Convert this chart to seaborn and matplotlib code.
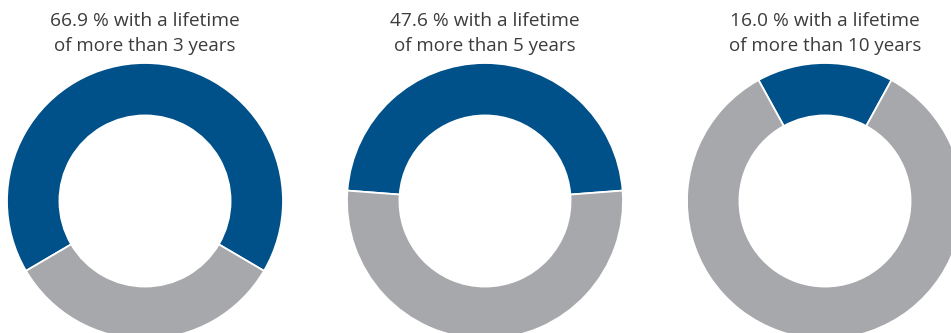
import seaborn as sns
import matplotlib.pyplot as plt

# Share of items per lifetime threshold
shares = [66.9, 47.6, 16.0]
years = [3, 5, 10]

sns.set_theme(style="white")
plt.rcParams['font.family'] = ['Open Sans', 'DejaVu Sans']

blue = '#00508a'
grey = '#a7a8ab'
text_color = '#3c3c3c'

W, H = 951, 333
fig = plt.figure(figsize=(W / 100, H / 100), dpi=100)

radius_px = 138
half = 140
centers_x = [145, 485, 825]
center_y = H - 201

for cx, share, yr in zip(centers_x, shares, years):
    ax = fig.add_axes([(cx - half) / W, (center_y - half) / H, 2 * half / W, 2 * half / H])
    start = 90 - share * 360 / 200
    ax.pie([share, 100 - share], colors=[blue, grey], startangle=start,
           counterclock=True, radius=1,
           wedgeprops=dict(width=0.38, edgecolor='white', linewidth=1.3))
    lim = half / radius_px
    ax.set_xlim(-lim, lim)
    ax.set_ylim(-lim, lim)
    ax.set_aspect('equal')
    ax.axis('off')

    fig.text(cx / W, 1 - 21 / H, f'{share:.1f} % with a lifetime',
             ha='center', va='center', fontsize=13.8, color=text_color)
    fig.text(cx / W, 1 - 46 / H, f'of more than {yr} years',
             ha='center', va='center', fontsize=13.5, color=text_color)

fig.savefig('out.png', dpi=100)
